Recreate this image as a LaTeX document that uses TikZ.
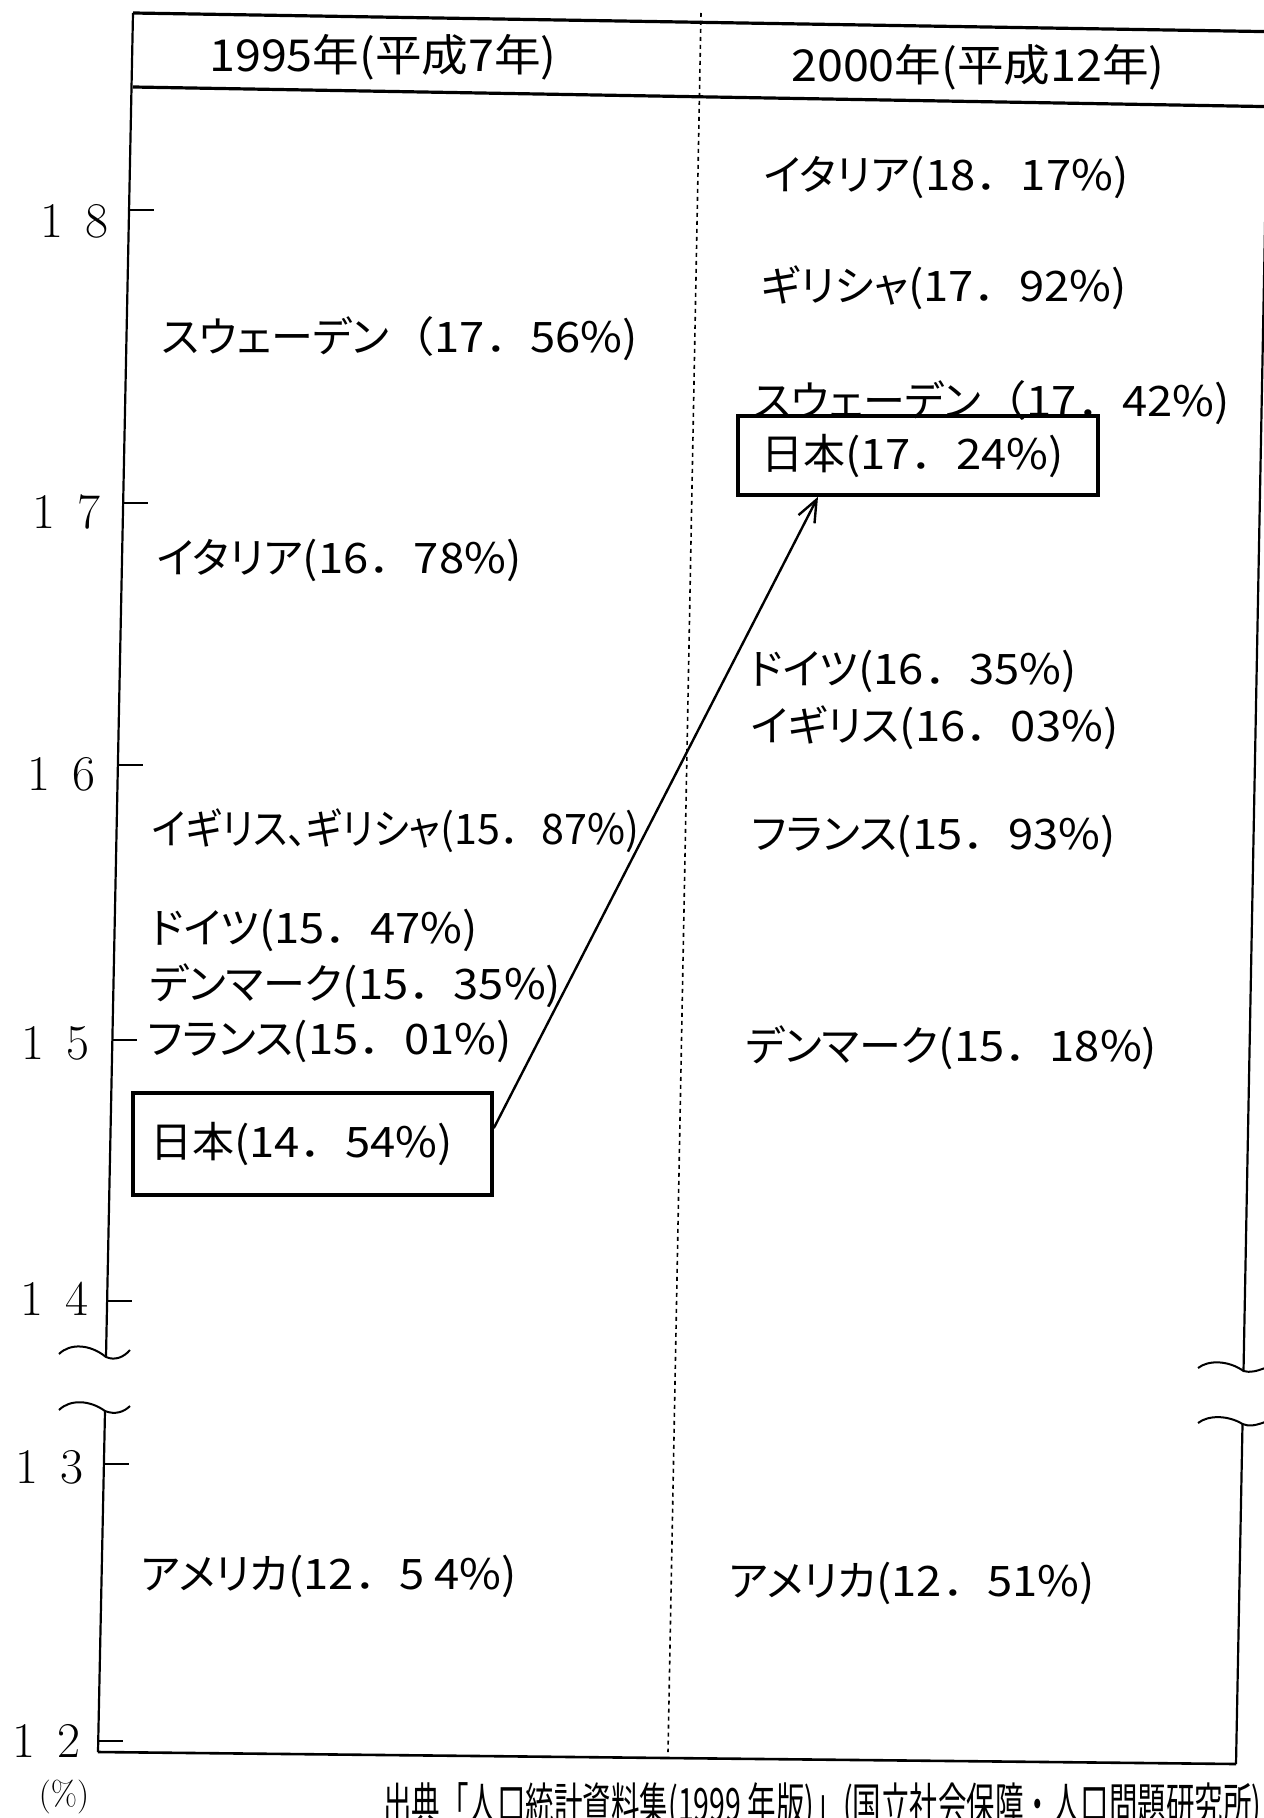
\documentclass[tikz,border=0pt]{standalone}
\usepackage{fontspec}
\newfontfamily\jpfont{Noto Sans CJK JP}
\newfontfamily\jpprop[RawFeature=+palt]{Noto Sans CJK JP}
\usetikzlibrary{arrows.meta}

\newcommand\pc[1]{{\jpfont\scalebox{1.08}[1]{#1}}}

\tikzset{
  lbl/.style={anchor=west,inner sep=0pt,font=\jpprop\fontsize{21}{22}\selectfont},
  hdr/.style={inner sep=0pt,xscale=1.06,font=\jpfont\fontsize{22}{23}\selectfont},
  axlbl/.style={anchor=east,inner sep=0pt,font=\fontsize{25}{26}\selectfont},
  jpbox/.style={draw,line width=1.8pt,align=left,inner ysep=0pt,font=\jpprop\fontsize{21}{22}\selectfont},
  brk/.style={line width=1pt},
}

\begin{document}
\begin{tikzpicture}[x=0.5pt,y=0.5pt,yscale=-1,xscale=1]
	\useasboundingbox (0,0) rectangle (1263,1818);
	% frame
	\draw [line width=1.6pt] (133,13) -- (1290,32) ;
	\draw [line width=1.6pt] (133,87) -- (1290,107) ;
	\draw [line width=1.1pt] (133,13) -- (106,1357) ;
	\draw [line width=1.1pt] (105,1411) -- (98,1752) ;
	\draw [line width=1.1pt] (1269,13) -- (1243.5,1371) ;
	\draw [line width=1.1pt] (1242.5,1424) -- (1236,1764) ;
	\draw [line width=1.3pt] (98,1752) -- (1236,1764) ;
	\draw [line width=0.8pt, dash pattern={on 2pt off 2pt}] (701,13) -- (668,1752) ;
	% breaks
	\draw [brk] (59,1354) .. controls (70,1343) and (90,1344) .. (106,1357) .. controls (115,1361) and (124,1357) .. (130,1350) ;
	\draw [brk] (59,1410) .. controls (70,1399) and (90,1400) .. (105,1411) .. controls (115,1415) and (124,1412) .. (130,1406) ;
	\draw [brk] (1198,1368) .. controls (1208,1360) and (1228,1360) .. (1243.5,1371) .. controls (1250,1373) and (1257,1371) .. (1265,1368) ;
	\draw [brk] (1198,1423) .. controls (1208,1415) and (1228,1415) .. (1242.5,1424) .. controls (1249,1427) and (1257,1425) .. (1265,1422) ;
	% ticks
	\draw [line width=1.1pt] (129,210) -- (154,210) ;
	\draw [line width=1.1pt] (123,503) -- (148,503) ;
	\draw [line width=1.1pt] (118,765) -- (143,765) ;
	\draw [line width=1.1pt] (112,1040) -- (137,1040) ;
	\draw [line width=1.1pt] (107,1301) -- (132,1301) ;
	\draw [line width=1.1pt] (104,1464) -- (129,1464) ;
	\draw [line width=1.1pt] (98,1741) -- (123,1741) ;
	\draw (109,221) node [axlbl] (y18) {1\hspace{0.45em}8};
	\draw (101,512) node [axlbl] (y17) {1\hspace{0.45em}7};
	\draw (96,774) node [axlbl] (y16) {1\hspace{0.45em}6};
	\draw (90,1043) node [axlbl] (y15) {1\hspace{0.45em}5};
	\draw (89,1299) node [axlbl] (y14) {1\hspace{0.45em}4};
	\draw (84,1467) node [axlbl] (y13) {1\hspace{0.45em}3};
	\draw (81,1741) node [axlbl] (y12) {1\hspace{0.45em}2};
	\draw (64,1797) node [inner sep=0pt,font=\fontsize{17}{18}\selectfont] (unit) {(\%)};
	% headers
	\draw (383,57) node [hdr] (h95) {1995年(平成7年)};
	\draw (978,67) node [hdr] (h00) {2000年(平成12年)};
	% 1995
	\draw (161,339) node [lbl] (sw95) {スウェーデン\pc{（17．56\%)}};
	\draw (157,560) node [lbl] (it95) {イタリア\pc{(16．78\%)}};
	\draw (152,831) node [lbl,xscale=0.91] (uk95) {イギリス、ギリシャ\pc{(15．87\%)}};
	\draw (150,930) node [lbl] (de95) {ドイツ\pc{(15．47\%)}};
	\draw (149,986) node [lbl] (dk95) {デンマーク\pc{(15．35\%)}};
	\draw (147,1041) node [lbl] (fr95) {フランス\pc{(15．01\%)}};
	\draw (312.5,1144) node [jpbox,text width=162.5pt,inner xsep=8.5pt,minimum height=51pt] (jp95) {日本\pc{(14．54\%)}};
	\draw (141,1576) node [lbl] (us95) {アメリカ\pc{(12．5 4\%)}};
	% 2000
	\draw (764,177) node [lbl] (it00) {イタリア\pc{(18．17\%)}};
	\draw (761,288) node [lbl] (gr00) {ギリシャ\pc{(17．92\%)}};
	\draw (753,403) node [lbl] (sw00) {スウェーデン\pc{（17．42\%)}};
	\draw (918,455.5) node [jpbox,text width=157pt,inner xsep=11.5pt,minimum height=39.5pt] (jp00) {日本\pc{(17．24\%)}};
	\draw (749,671) node [lbl] (de00) {ドイツ\pc{(16．35\%)}};
	\draw (751,728) node [lbl] (uk00) {イギリス\pc{(16．03\%)}};
	\draw (751,836) node [lbl] (fr00) {フランス\pc{(15．93\%)}};
	\draw (745,1048) node [lbl] (dk00) {デンマーク\pc{(15．18\%)}};
	\draw (729,1583) node [lbl] (us00) {アメリカ\pc{(12．51\%)}};
	% arrow
	\draw [line width=1.2pt,-{Straight Barb[length=11pt,width=9pt]}] (jp95.5) -- ([xshift=-50pt]jp00.south) ;
	% source
	\draw (383,1782) node [anchor=north west,inner sep=0pt,xscale=0.62,font=\jpfont\fontsize{23}{24}\selectfont] (src) {出典「人口統計資料集(1999 年版)」(国立社会保障・人口問題研究所)};
\end{tikzpicture}
\end{document}
